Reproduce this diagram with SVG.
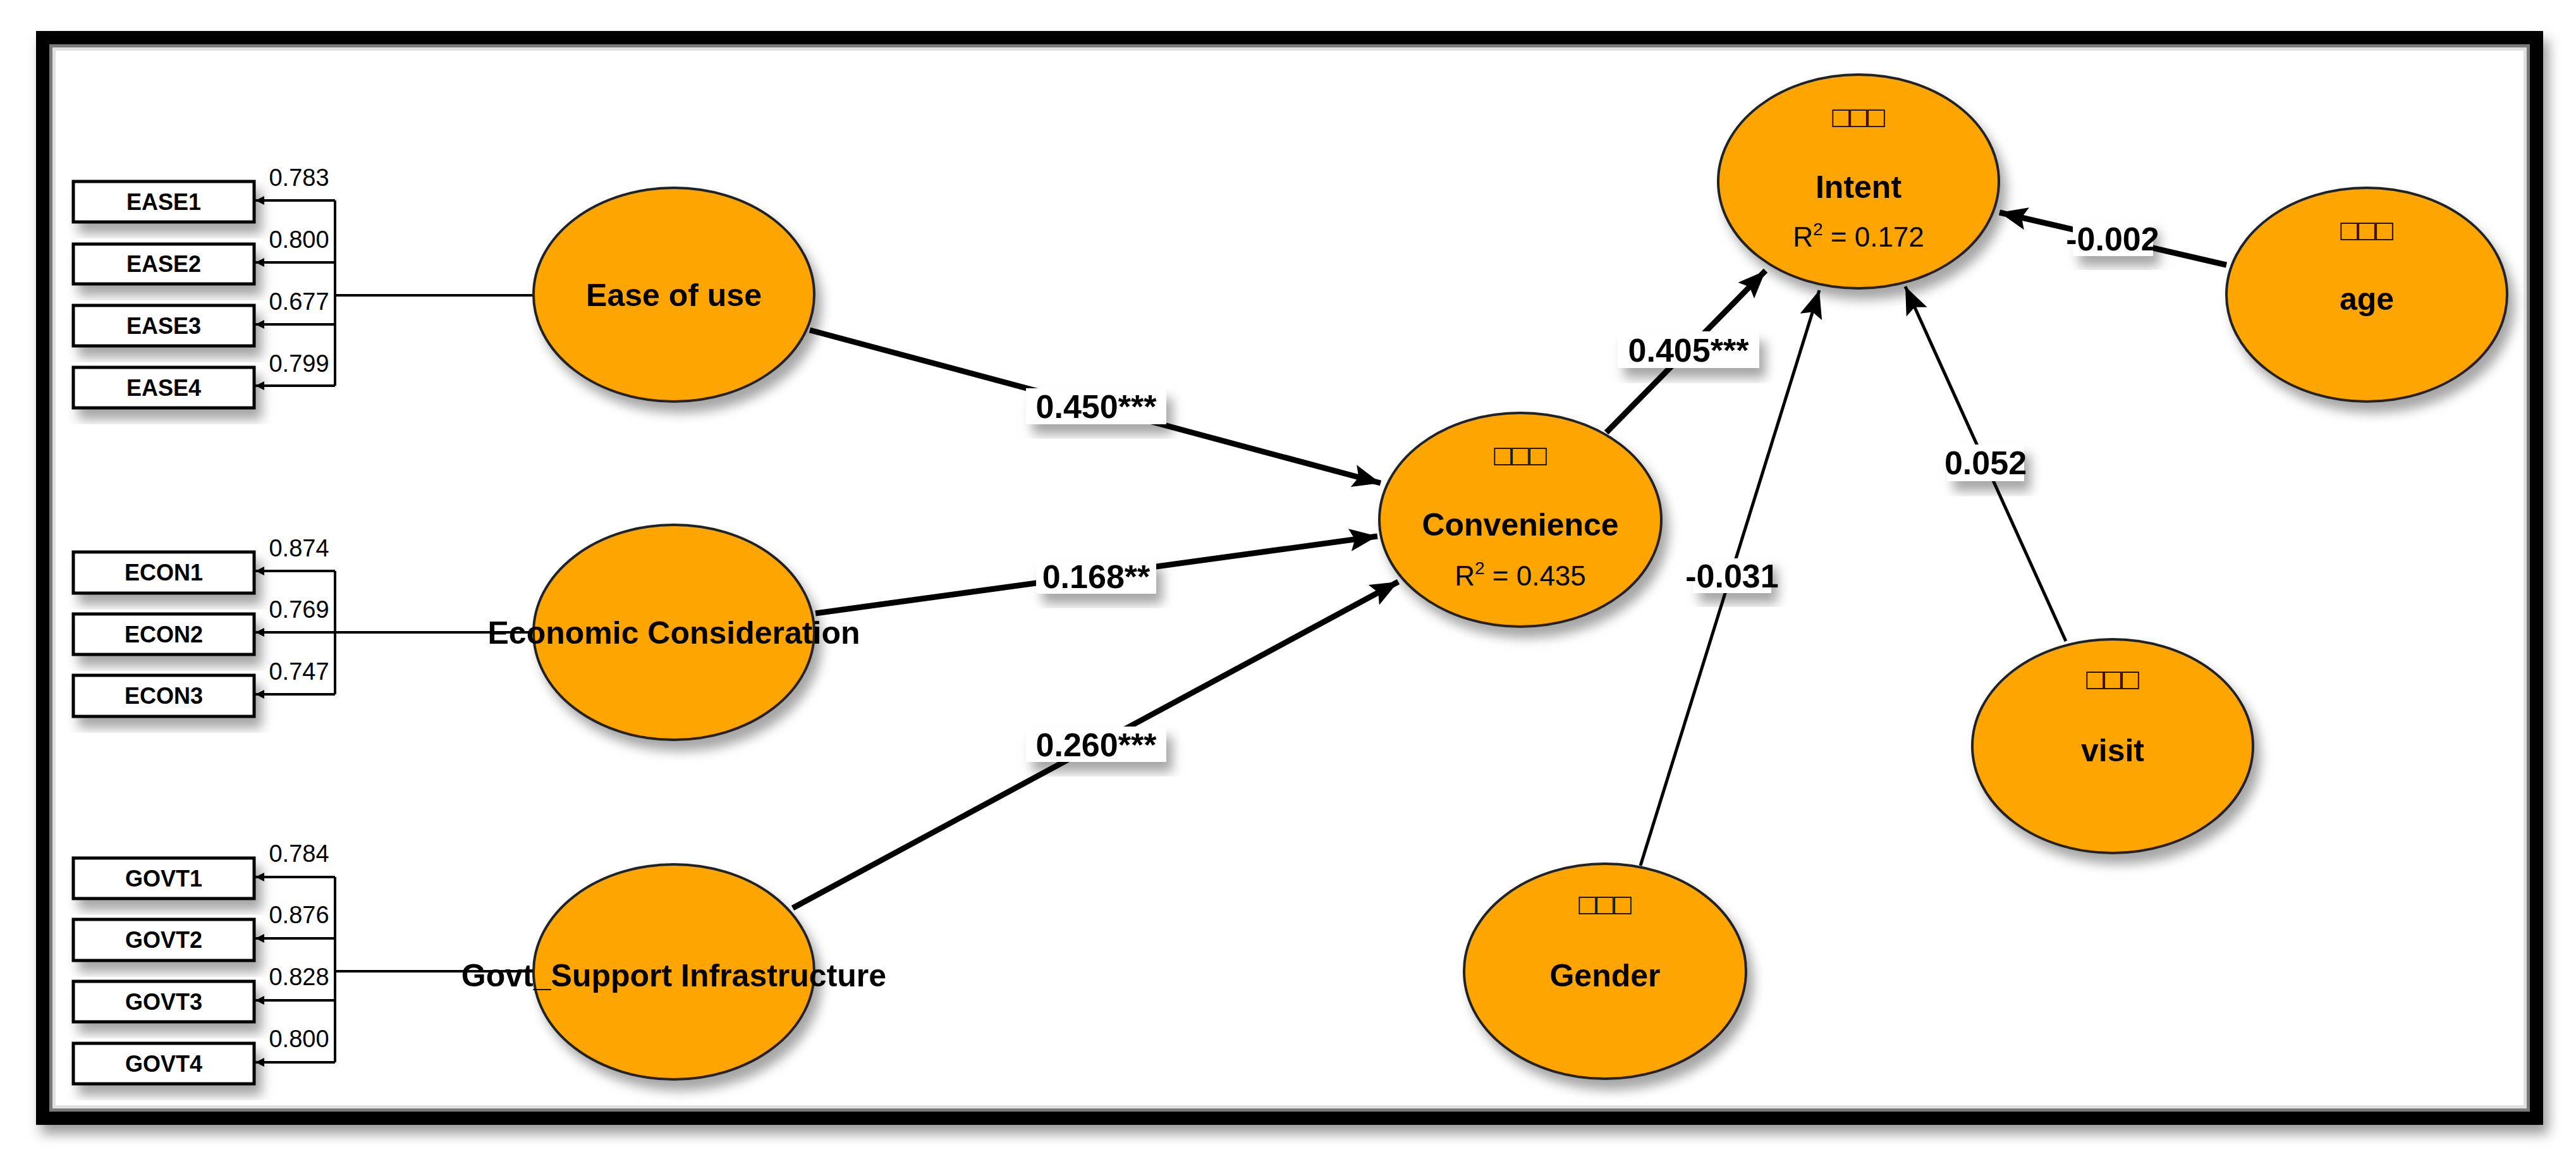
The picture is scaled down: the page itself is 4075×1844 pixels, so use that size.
<svg xmlns="http://www.w3.org/2000/svg" width="4075" height="1844" viewBox="0 0 4075 1844">
<defs>
<filter id="sh" x="-20%" y="-20%" width="150%" height="160%"><feDropShadow dx="10" dy="16" stdDeviation="9" flood-color="#000" flood-opacity="0.35"/></filter>
<filter id="fsh" x="-5%" y="-5%" width="110%" height="112%"><feDropShadow dx="8" dy="14" stdDeviation="10" flood-color="#000" flood-opacity="0.4"/></filter>
<marker id="big" markerUnits="userSpaceOnUse" markerWidth="50" markerHeight="40" refX="44" refY="18" orient="auto"><path d="M0,0 L44,18 L0,36 L8,18 Z" fill="#000"/></marker>
<marker id="sm" markerUnits="userSpaceOnUse" markerWidth="16" markerHeight="16" refX="14" refY="7" orient="auto"><path d="M0,0 L14,7 L0,14 Z" fill="#000"/></marker>
</defs>
<style>
.lv{fill:#ffa500;stroke:#222;stroke-width:4;filter:url(#sh)}
.ind{fill:#fff;stroke:#000;stroke-width:5;filter:url(#sh)}
.t{font-family:"Liberation Sans Narrow","Liberation Sans",Arial,sans-serif;fill:#000;text-anchor:middle}
.b{font-weight:bold}
.it{font-size:36px;font-weight:bold}
.ld{font-size:38px}
.nm{font-size:50px;font-weight:bold}
.r2{font-size:44px}
.sq{font-size:46px}
.pl{font-size:52px;font-weight:bold}
.lb{fill:#fff;filter:url(#sh)}
.p{stroke:#000;stroke-width:9;fill:none}
.pt{stroke:#000;stroke-width:5;fill:none}
.m{stroke:#000;stroke-width:4;fill:none}
</style>
<rect x="0" y="0" width="4075" height="1844" fill="#fff"/>
<rect x="70" y="62" width="3940" height="1704" fill="#fff" stroke="#000" stroke-width="26" filter="url(#fsh)"/>
<rect x="83" y="75" width="3914" height="1678" fill="none" stroke="#ccc" stroke-width="10" opacity="0.6"/>

<g id="connectors">
<path class="m" d="M530,317 V610 M530,467 H844"/>
<path class="m" d="M530,317 H404" marker-end="url(#sm)"/>
<path class="m" d="M530,415 H404" marker-end="url(#sm)"/>
<path class="m" d="M530,513 H404" marker-end="url(#sm)"/>
<path class="m" d="M530,610 H404" marker-end="url(#sm)"/>
<path class="m" d="M530,903 V1098 M530,1000 H844"/>
<path class="m" d="M530,903 H404" marker-end="url(#sm)"/>
<path class="m" d="M530,1000 H404" marker-end="url(#sm)"/>
<path class="m" d="M530,1098 H404" marker-end="url(#sm)"/>
<path class="m" d="M530,1387 V1680 M530,1536 H844"/>
<path class="m" d="M530,1387 H404" marker-end="url(#sm)"/>
<path class="m" d="M530,1484 H404" marker-end="url(#sm)"/>
<path class="m" d="M530,1582 H404" marker-end="url(#sm)"/>
<path class="m" d="M530,1680 H404" marker-end="url(#sm)"/>
<line class="p" x1="1281" y1="522" x2="2184" y2="764" marker-end="url(#big)"/>
<line class="p" x1="1290" y1="970" x2="2179" y2="848" marker-end="url(#big)"/>
<line class="p" x1="1254" y1="1436" x2="2212" y2="920" marker-end="url(#big)"/>
<line class="p" x1="2541" y1="684" x2="2793" y2="428" marker-end="url(#big)"/>
<line class="pt" x1="2595" y1="1369" x2="2878" y2="459" marker-end="url(#big)"/>
<line class="pt" x1="3268" y1="1014" x2="3014" y2="453" marker-end="url(#big)"/>
<line class="p" x1="3522" y1="419" x2="3163" y2="336" marker-end="url(#big)"/>
<g class="t ld">
<text x="473" y="294">0.783</text><text x="473" y="392">0.800</text><text x="473" y="490">0.677</text><text x="473" y="588">0.799</text>
<text x="473" y="880">0.874</text><text x="473" y="977">0.769</text><text x="473" y="1075">0.747</text>
<text x="473" y="1363">0.784</text><text x="473" y="1460">0.876</text><text x="473" y="1558">0.828</text><text x="473" y="1656">0.800</text>
</g>
<rect class="lb" x="1623" y="614" width="222" height="57"/><text class="t pl" x="1734" y="661">0.450***</text>
<rect class="lb" x="1639" y="883" width="190" height="56"/><text class="t pl" x="1734" y="930">0.168**</text>
<rect class="lb" x="1623" y="1149" width="222" height="56"/><text class="t pl" x="1734" y="1196">0.260***</text>
<rect class="lb" x="2559" y="524" width="224" height="58"/><text class="t pl" x="2671" y="572">0.405***</text>
<rect class="lb" x="2678" y="883" width="124" height="55"/><text class="t pl" x="2740" y="929">-0.031</text>
<rect class="lb" x="3080" y="703" width="122" height="58"/><text class="t pl" x="3141" y="750">0.052</text>
<rect class="lb" x="3279" y="350" width="127" height="55"/><text class="t pl" x="3342" y="396">-0.002</text>
</g>

<g id="EASE1"><rect class="ind" x="116" y="287" width="286" height="64"/><text class="t it" x="259" y="332">EASE1</text></g>
<g id="EASE2"><rect class="ind" x="116" y="386" width="286" height="63"/><text class="t it" x="259" y="430">EASE2</text></g>
<g id="EASE3"><rect class="ind" x="116" y="483" width="286" height="64"/><text class="t it" x="259" y="528">EASE3</text></g>
<g id="EASE4"><rect class="ind" x="116" y="581" width="286" height="64"/><text class="t it" x="259" y="626">EASE4</text></g>
<g id="ECON1"><rect class="ind" x="116" y="873" width="286" height="65"/><text class="t it" x="259" y="918">ECON1</text></g>
<g id="ECON2"><rect class="ind" x="116" y="971" width="286" height="64"/><text class="t it" x="259" y="1016">ECON2</text></g>
<g id="ECON3"><rect class="ind" x="116" y="1068" width="286" height="65"/><text class="t it" x="259" y="1113">ECON3</text></g>
<g id="GOVT1"><rect class="ind" x="116" y="1357" width="286" height="64"/><text class="t it" x="259" y="1402">GOVT1</text></g>
<g id="GOVT2"><rect class="ind" x="116" y="1454" width="286" height="65"/><text class="t it" x="259" y="1499">GOVT2</text></g>
<g id="GOVT3"><rect class="ind" x="116" y="1552" width="286" height="64"/><text class="t it" x="259" y="1597">GOVT3</text></g>
<g id="GOVT4"><rect class="ind" x="116" y="1650" width="286" height="64"/><text class="t it" x="259" y="1695">GOVT4</text></g>

<g id="ease"><ellipse class="lv" cx="1066" cy="466" rx="222" ry="169"/><text class="t nm" x="1066" y="484">Ease of use</text></g>
<g id="econ"><ellipse class="lv" cx="1066" cy="1000" rx="222" ry="170"/><text class="t nm" x="1066" y="1018">Economic Consideration</text></g>
<g id="govt"><ellipse class="lv" cx="1066" cy="1537" rx="222" ry="170"/><text class="t nm" x="1066" y="1560">Govt_Support Infrastructure</text></g>
<g id="convenience"><ellipse class="lv" cx="2405" cy="822" rx="223" ry="169"/><text class="t sq" x="2405" y="736">□□□</text><text class="t nm" x="2405" y="847">Convenience</text><text class="t r2" x="2405" y="926">R<tspan dy="-18" font-size="28">2</tspan><tspan dy="18"> = 0.435</tspan></text></g>
<g id="intent"><ellipse class="lv" cx="2940" cy="287" rx="222" ry="169"/><text class="t sq" x="2940" y="201">□□□</text><text class="t nm" x="2940" y="313">Intent</text><text class="t r2" x="2940" y="390">R<tspan dy="-18" font-size="28">2</tspan><tspan dy="18"> = 0.172</tspan></text></g>
<g id="age"><ellipse class="lv" cx="3744" cy="466" rx="222" ry="169"/><text class="t sq" x="3744" y="380">□□□</text><text class="t nm" x="3744" y="490">age</text></g>
<g id="visit"><ellipse class="lv" cx="3342" cy="1180" rx="222" ry="169"/><text class="t sq" x="3342" y="1090">□□□</text><text class="t nm" x="3342" y="1204">visit</text></g>
<g id="gender"><ellipse class="lv" cx="2539" cy="1536" rx="223" ry="170"/><text class="t sq" x="2539" y="1446">□□□</text><text class="t nm" x="2539" y="1560">Gender</text></g>
</svg>
